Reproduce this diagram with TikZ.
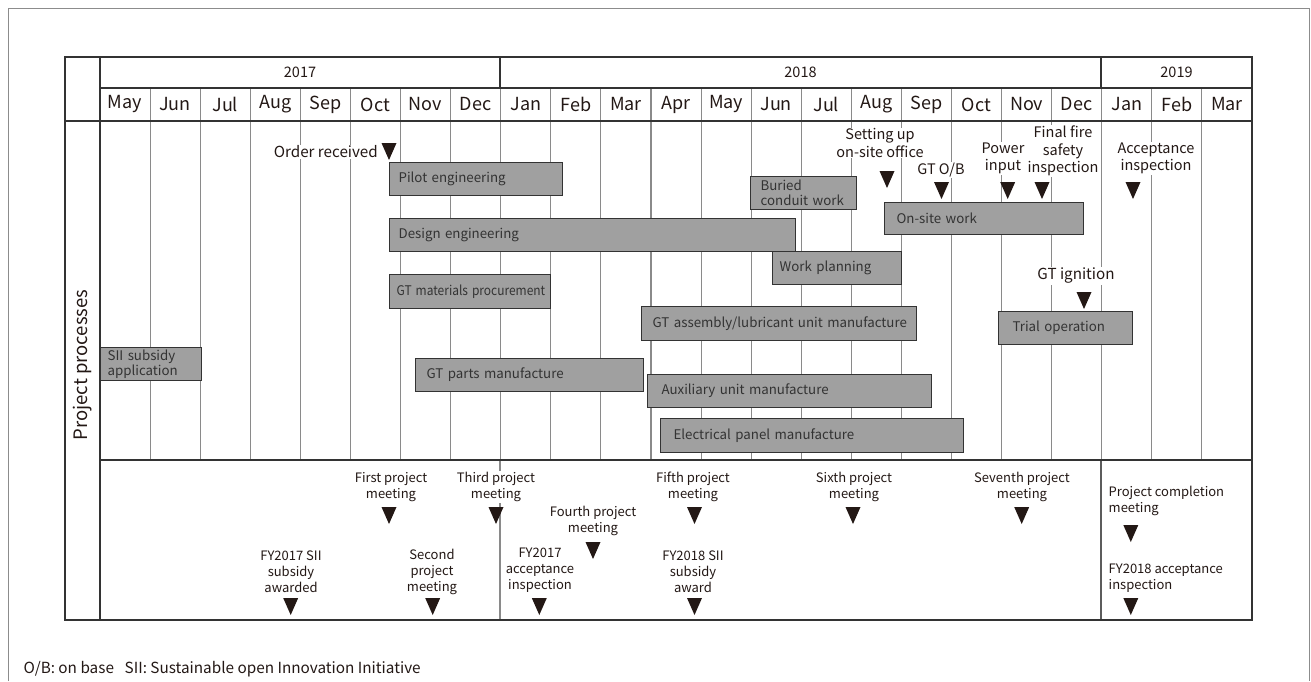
\documentclass[tikz,border=0pt]{standalone}
\usepackage{fontspec}
\setmainfont{Noto Sans CJK JP}
\definecolor{ink}{HTML}{231815}
\definecolor{gridgray}{HTML}{8A8A8A}
\definecolor{framegray}{HTML}{8C8C8C}
\definecolor{barfill}{HTML}{A0A0A0}
\definecolor{bartext}{HTML}{333333}
\definecolor{tabline}{HTML}{333333}
\newcommand\gbar[7]{%
  \pgfmathsetmacro\gbw{#4-#2-2*#6}%
  \pgfmathsetmacro\gbh{#5-#3}%
  \node[barbox, anchor=north west, inner xsep=#6pt, text width=\gbw pt, minimum height=\gbh pt] (#1) at (#2,#3) {#7};}
\newcommand\mtri[2]{\fill[ink] ({#1-7.5},#2) -- ({#1+7.5},#2) -- (#1,{#2+17}) -- cycle;}
\begin{document}
\begin{tikzpicture}[x=1pt,y=-1pt,
  barbox/.style={draw=tabline, line width=1.2pt, fill=barfill, text=bartext, align=left, inner ysep=0pt, font=\fontsize{13.3}{14.7}\selectfont},
  toplbl/.style={fill=white, text=ink, align=center, inner sep=1pt, font=\fontsize{14.5}{17.5}\selectfont},
  meetlbl/.style={fill=white, text=ink, align=center, inner sep=1pt, font=\fontsize{13}{16}\selectfont},
  monthlbl/.style={text=ink, font=\fontsize{18}{20}\selectfont},
  yearlbl/.style={text=ink, font=\fontsize{14.5}{17}\selectfont},
  gridline/.style={draw=gridgray, line width=1.1pt},
  tabframe/.style={draw=tabline, line width=1.2pt}]
\useasboundingbox (0,0) rectangle (1311,681);
% outer frame
\draw[draw=framegray, line width=1pt] (8,681) -- (8,8) -- (1309,8) -- (1309,681);
% month grid lines
\foreach \i in {1,...,22} {
  \draw[gridline] ({100+\i*50.087},88) -- ({100+\i*50.087},460);
}
\draw[gridline] (500,460) -- (500,620);
\draw[draw=tabline!80, line width=1.1pt] (1101,460) -- (1101,620);
\draw[tabframe] (500,57) -- (500,88);
\draw[tabframe] (1101,57) -- (1101,88);
% header labels
\node[yearlbl] (y17) at (300,72.5) {2017};
\node[yearlbl] (y18) at (800.5,72.5) {2018};
\node[yearlbl] (y19) at (1176.5,72.5) {2019};
\foreach \m [count=\i from 0] in {May,Jun,Jul,Aug,Sep,Oct,Nov,Dec,Jan,Feb,Mar,Apr,May,Jun,Jul,Aug,Sep,Oct,Nov,Dec,Jan,Feb,Mar} {
  \node[monthlbl] (m\i) at ({100+(\i+0.5)*50.087},104.5) {\m};
}
\node[text=ink, rotate=90, font=\fontsize{18.5}{20}\selectfont] (proc) at (83,365) {Project processes};
% bars
\gbar{pilot}{389}{162}{562}{195}{9}{Pilot engineering}
\gbar{design}{389}{218}{795}{251}{9}{Design engineering}
\gbar{gtmat}{389}{274}{550}{308}{7}{\scalebox{0.9}[1]{GT materials procurement}}
\gbar{sii}{100}{347}{201}{380}{7}{SII subsidy\\application}
\gbar{gtparts}{415}{358}{643}{391}{11}{GT parts manufacture}
\gbar{gtasm}{641}{306}{916}{340}{11}{\mbox{GT assembly/lubricant unit manufacture}}
\gbar{aux}{647}{374}{931}{407}{14}{Auxiliary unit manufacture}
\gbar{elec}{660}{418}{963}{452}{13}{Electrical panel manufacture}
\gbar{buried}{750}{176}{856}{209}{10}{Buried\\conduit work}
\gbar{workplan}{772}{251}{901}{284}{7}{Work planning}
\gbar{onsite}{884}{202}{1083}{234}{12}{On-site work}
\gbar{trial}{998}{311}{1132}{344}{14}{Trial operation}
% upper labels
\node[toplbl, anchor=east, font=\fontsize{15.2}{17.5}\selectfont] (order) at (379,152) {Order received};
\node[toplbl] (office) at (880,143) {Setting up\\on-site office};
\node[toplbl] (gtob) at (941,170) {GT O/B};
\node[toplbl] (power) at (1003,158.5) {Power\\input};
\node[toplbl] (fire) at (1063,151) {Final fire\\safety\\inspection};
\node[toplbl] (accept) at (1156,158.5) {Acceptance\\inspection};
\node[toplbl, font=\fontsize{15.2}{17.5}\selectfont] (ignite) at (1076,276) {GT ignition};
\mtri{389}{143}
\mtri{887}{171}
\mtri{941.5}{182}
\mtri{1007.7}{182}
\mtri{1042}{182}
\mtri{1133}{182}
\mtri{1084}{292}
% meeting labels
\node[meetlbl] (m1) at (391,487) {First project\\meeting};
\node[meetlbl] (m3) at (496,487) {Third project\\meeting};
\node[meetlbl] (m4) at (593,521) {Fourth project\\meeting};
\node[meetlbl] (m5) at (693,487) {Fifth project\\meeting};
\node[meetlbl] (m6) at (854,487) {Sixth project\\meeting};
\node[meetlbl] (m7) at (1022,487) {Seventh project\\meeting};
\node[meetlbl, anchor=west, align=left] (mc) at (1107.5,500.5) {Project completion\\meeting};
\node[meetlbl] (s17) at (291,571.5) {FY2017 SII\\subsidy\\awarded};
\node[meetlbl] (m2) at (432,571.5) {Second\\project\\meeting};
\node[meetlbl] (a17) at (540,570) {FY2017\\acceptance\\inspection};
\node[meetlbl] (s18) at (693,572) {FY2018 SII\\subsidy\\award};
\node[meetlbl, anchor=west, align=left] (a18) at (1107.5,578) {FY2018 acceptance\\inspection};
\mtri{389}{507}
\mtri{496}{507}
\mtri{593}{542}
\mtri{694.5}{507}
\mtri{853}{507}
\mtri{1021.7}{507}
\mtri{1130.8}{525}
\mtri{290.7}{598}
\mtri{432.7}{598}
\mtri{539.3}{598}
\mtri{694.5}{598}
\mtri{1130.8}{598}
% table frame
\draw[tabframe] (65,57) rectangle (1252,620);
\draw[tabframe] (100,57) -- (100,620);
\draw[tabframe] (100,88) -- (1252,88);
\draw[tabframe] (65,121) -- (1252,121);
\draw[tabframe] (100,460) -- (1252,460);
% footnote
\node[anchor=west, text=ink, inner sep=0pt, font=\fontsize{15.3}{17}\selectfont] (note) at (23.5,669) {O/B: on base\hspace{0.7em}SII: Sustainable open Innovation Initiative};
\end{tikzpicture}
\end{document}
